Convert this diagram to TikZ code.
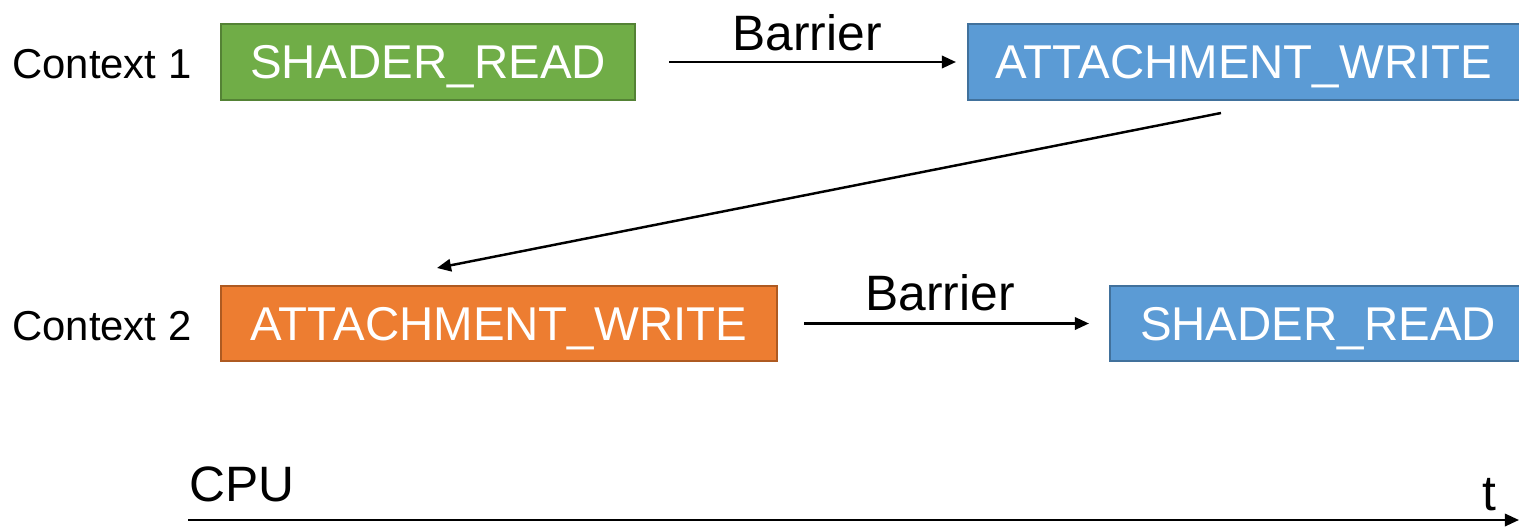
\documentclass[tikz,border=0pt]{standalone}
\usepackage{fontspec}
\setmainfont{Liberation Sans}
\usetikzlibrary{arrows.meta}
\definecolor{grn}{HTML}{70AD47}
\definecolor{grnb}{HTML}{548235}
\definecolor{blu}{HTML}{5B9BD5}
\definecolor{blub}{HTML}{41719C}
\definecolor{org}{HTML}{ED7D31}
\definecolor{orgb}{HTML}{AE5A21}
\tikzset{
  stagebox/.style={rectangle, line width=1.2pt, text=white, inner sep=0pt,
    text height=19.2pt, text depth=0pt,
    minimum height=1.51cm, font=\fontsize{27}{30}\selectfont},
  ctxlabel/.style={anchor=base west, inner sep=0pt, font=\fontsize{23.8}{28}\selectfont},
  biglabel/.style={anchor=base, inner sep=0pt, font=\fontsize{28.3}{32}\selectfont},
  conn/.style={line width=1.4pt, -{Triangle[length=8pt,width=7pt]}}
}
\begin{document}
\begin{tikzpicture}[x=0.02cm,y=-0.02cm]
\useasboundingbox (0,0) rectangle (1519,528);
% boxes
\node[stagebox, fill=grn, draw=grnb, minimum width=8.28cm] (g) at (428,62) {SHADER\_READ};
\node[stagebox, fill=blu, draw=blub, minimum width=11.04cm] (b1) at (1244,62) {ATTACHMENT\_WRITE};
\node[stagebox, fill=org, draw=orgb, minimum width=11.12cm] (o) at (499,323.5) {ATTACHMENT\_WRITE};
\node[stagebox, fill=blu, draw=blub, minimum width=8.32cm] (b2) at (1318,323.5) {SHADER\_READ};
% labels
\node[ctxlabel] (c1) at (12,78) {Context 1};
\node[ctxlabel] (c2) at (12,340) {Context 2};
\node[biglabel] (bar1) at (807,50) {Barrier};
\node[biglabel] (bar2) at (940,310) {Barrier};
\node[anchor=base west, inner sep=0pt, font=\fontsize{28.3}{32}\selectfont] (cpu) at (189,501) {CPU};
\node[biglabel] (tl) at (1489,510) {t};
% connectors
\draw[conn, shorten <=0.66cm, shorten >=0.22cm] (g.east) -- (b1.west);
\draw[conn, shorten <=0.52cm, shorten >=0.4cm] (o.east) -- (b2.west);
\coordinate (dstart) at (1221,113);
\coordinate (dend) at (437,268);
\draw[conn] (dstart) -- (dend);
\coordinate (ax0) at (188,520);
\coordinate (ax1) at (1519,520);
\draw[conn] (ax0) -- (ax1);
\end{tikzpicture}
\end{document}
